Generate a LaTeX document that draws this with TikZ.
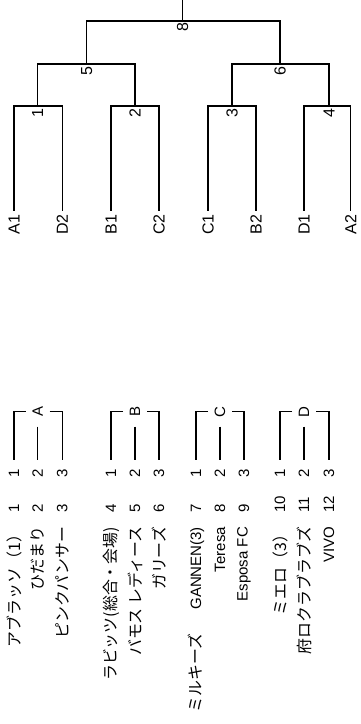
\documentclass[tikz,border=0pt]{standalone}
\usepackage{fontspec}
\setmainfont{Liberation Sans}
\newfontfamily\jp[Scale=1.06]{Noto Sans CJK JP}
\tikzset{
  ln/.style={line width=1.3pt},
  txt/.style={font=\fontsize{15}{18}\selectfont, inner sep=0pt, outer sep=0pt, rotate=90},
  bigtxt/.style={txt, font=\fontsize{16}{19}\selectfont},
  leaflab/.style={bigtxt, inner xsep=3.8pt, anchor=east},
  treelab/.style={bigtxt, anchor=east},
  seatnum/.style={txt, inner xsep=9pt, anchor=east},
  grouplab/.style={txt, minimum width=30pt, minimum height=24pt},
  teamnum/.style={txt, anchor=west},
  teamname/.style={txt, anchor=east},
}
\begin{document}
\begin{tikzpicture}[x=1pt,y=-1pt]
\useasboundingbox (0,0) rectangle (361,724);
% leaves
\foreach \n/\x in {A1/14,D2/62.3,B1/111,C2/159,C1/208,B2/256,D1/304,A2/350.7}
  \node[leaflab] (l\n) at (\x,210.7) {\n};
% junctions
\coordinate (j1) at (37.7,106);
\coordinate (j2) at (135,106);
\coordinate (j3) at (232,106);
\coordinate (j4) at (329,106);
\coordinate (j5) at (86.7,64);
\coordinate (j6) at (280,64);
\coordinate (j8) at (182.7,21);
\coordinate (top) at (182.7,0);
\draw[ln] (lA1.east) |- (j1) -| (lD2.east);
\draw[ln] (lB1.east) |- (j2) -| (lC2.east);
\draw[ln] (lC1.east) |- (j3) -| (lB2.east);
\draw[ln] (lD1.east) |- (j4) -| (lA2.east);
\draw[ln] (j1) |- (j5) -| (j2);
\draw[ln] (j3) |- (j6) -| (j4);
\draw[ln] (j5) |- (j8) -| (j6);
\draw[ln] (j8) -- (top);
\node[treelab] (t1) at (37.7,109) {1};
\node[treelab] (t2) at (135,109) {2};
\node[treelab] (t3) at (232,109) {3};
\node[treelab] (t4) at (329,109) {4};
\node[treelab] (t5) at (86.7,66.5) {5};
\node[treelab] (t6) at (280,66.5) {6};
\node[treelab] (t8) at (182.7,23) {8};
% groups
\foreach \g/\a/\b/\c in {A/14/37.7/62.3,B/111/135/159,C/196/220/244,D/280/304/329}{
  \node[grouplab] (g\g) at (\b,411.7) {\g};
  \node[seatnum] (s\g1) at (\a,460) {1};
  \node[seatnum] (s\g2) at (\b,460) {2};
  \node[seatnum] (s\g3) at (\c,460) {3};
  \draw[ln] (g\g.north) -| (s\g1.east);
  \draw[ln] (g\g.south) -| (s\g3.east);
  \draw[ln] (g\g.west) -- (s\g2.east);
}
% team numbers
\foreach \k/\x in {1/14,2/37.7,3/62.3,4/111,5/135,6/159,7/196,8/220,9/244,10/280,11/304,12/329}
  \node[teamnum] (n\k) at (\x,512.5) {\k};
% team names
\node[teamname] (m1) at (14,527) {\jp アブラッソ（1）};
\node[teamname] (m2) at (37.7,527) {\jp ひだまり};
\node[teamname] (m3) at (62.3,527) {\jp ピンクパンサー};
\node[teamname] (m4) at (111,527) {\jp ラビッツ(総合・会場)};
\node[teamname] (m5) at (135,527) {\jp バモス レディース};
\node[teamname] (m6) at (159,527) {\jp ガリーズ};
\node[teamname] (m7) at (196,527) {{\jp ミルキーズ　}\hspace{8pt}GANNEN(3)};
\node[teamname] (m8) at (220,527) {Teresa};
\node[teamname] (m9) at (244,527) {Esposa FC};
\node[teamname] (m10) at (280,527) {\jp ミエロ（3）};
\node[teamname] (m11) at (304,527) {\jp 府ロクラブラブズ};
\node[teamname] (m12) at (329,527) {VIVO};
\end{tikzpicture}
\end{document}
